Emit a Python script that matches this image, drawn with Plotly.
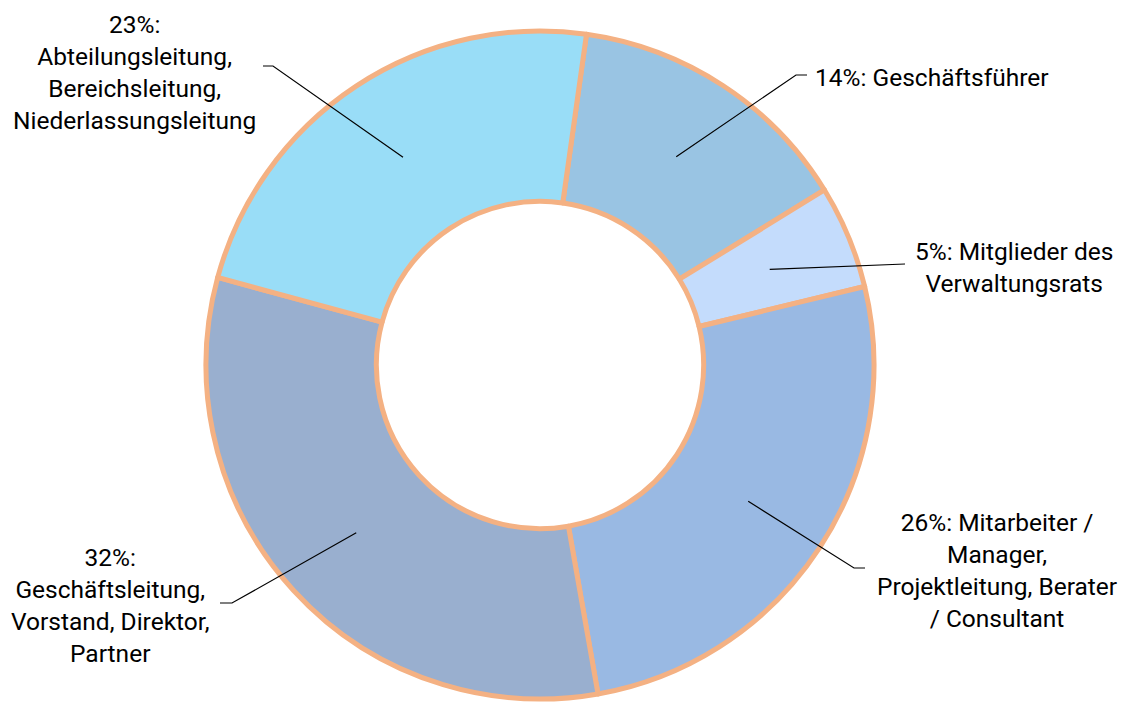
import math
import plotly.graph_objects as go

labels = ["Geschäftsführer", "Mitglieder des Verwaltungsrats",
          "Mitarbeiter / Manager, Projektleitung, Berater / Consultant",
          "Geschäftsleitung, Vorstand, Direktor, Partner",
          "Abteilungsleitung, Bereichsleitung, Niederlassungsleitung"]
values = [14, 5, 26, 32, 23]
label_texts = ["14%: Geschäftsführer",
               "5%: Mitglieder des<br>Verwaltungsrats",
               "26%: Mitarbeiter /<br>Manager,<br>Projektleitung, Berater<br>/ Consultant",
               "32%:<br>Geschäftsleitung,<br>Vorstand, Direktor,<br>Partner",
               "23%:<br>Abteilungsleitung,<br>Bereichsleitung,<br>Niederlassungsleitung"]
colors = ["#99C4E3", "#C4DCFC", "#99B9E3", "#99AFCF", "#99DDF7"]

W, H = 1127, 705
OFF = 8  # page body margin in the browser
CX, CY, R = 540 - OFF, 365 - OFF, 334
HOLE = 0.49
ROT = 8

# label layout (reference pixels): elbow point, horizontal end, text position, anchor
elbows = [(796, 75), (905, 264), (854, 568), (232, 603), (273, 66)]
ends = [(807, 75), (905, 264), (865, 568), (220, 603), (263, 66)]
text_pos = [(813, 77, "left"), (1014, 267, "center"), (997, 570, "center"),
            (110, 605, "center"), (134, 72, "center")]

fig = go.Figure(go.Pie(
    labels=labels, values=values, sort=False, direction="clockwise",
    rotation=ROT, hole=HOLE, textinfo="none", hoverinfo="label+percent",
    marker=dict(colors=colors, line=dict(color="#F4B183", width=5)),
    domain=dict(x=[(CX - R) / W, (CX + R) / W],
                y=[1 - (CY + R) / H, 1 - (CY - R) / H]),
    showlegend=False,
))

def px2paper(x, y, ref=True):
    if ref:
        x, y = x - OFF, y - OFF
    return x / W, 1 - y / H

total = sum(values)
cum = 0
shapes, annotations = [], []
rm = R * (1 + HOLE) / 2
for i, v in enumerate(values):
    mid = math.radians(ROT + (cum + v / 2) / total * 360)
    cum += v
    sx, sy = CX + rm * math.sin(mid), CY - rm * math.cos(mid)
    p0 = px2paper(sx, sy, ref=False)
    p1 = px2paper(*elbows[i])
    p2 = px2paper(*ends[i])
    path = "M {} {} L {} {} L {} {}".format(p0[0], p0[1], p1[0], p1[1], p2[0], p2[1])
    shapes.append(dict(type="path", xref="paper", yref="paper", path=path,
                       line=dict(color="black", width=1.2)))
    tx, ty, anc = text_pos[i]
    ax_, ay_ = px2paper(tx, ty)
    annotations.append(dict(x=ax_, y=ay_, xref="paper", yref="paper",
                            text=label_texts[i], showarrow=False,
                            xanchor=anc, yanchor="middle", align="center",
                            font=dict(family="Roboto", size=24.5, color="black")))

fig.update_layout(width=W, height=H, margin=dict(l=0, r=0, t=0, b=0),
                  paper_bgcolor="white", plot_bgcolor="white",
                  shapes=shapes, annotations=annotations)
fig.write_html("out.html")
